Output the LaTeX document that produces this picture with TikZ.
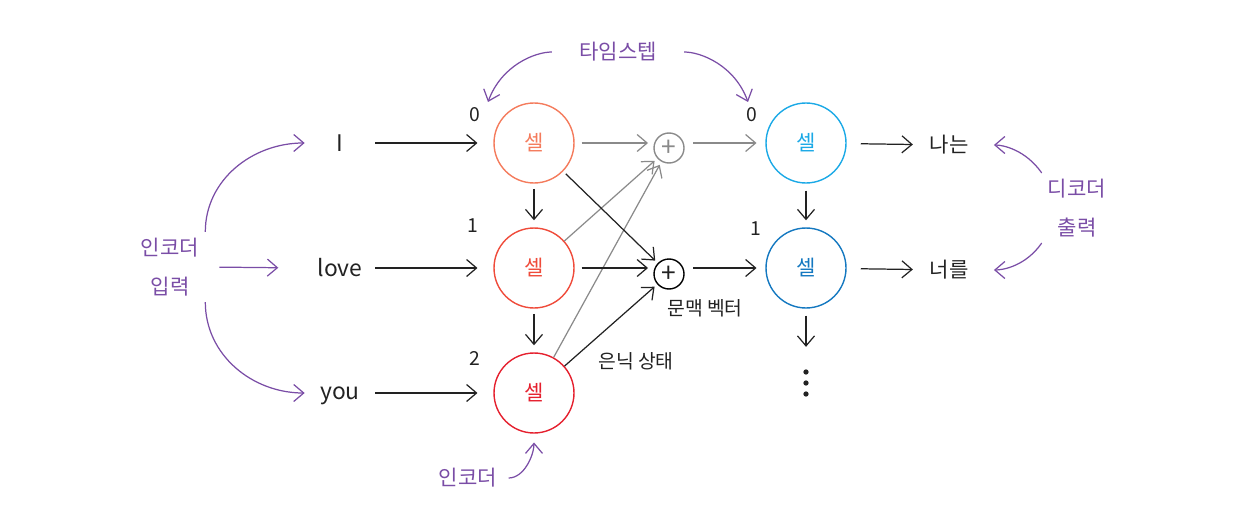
\documentclass[tikz,border=0pt]{standalone}
\usepackage{fontspec}
\setmainfont{Noto Sans CJK KR}
\usepackage{tikz}
\usetikzlibrary{arrows.meta,positioning}

\definecolor{encA}{HTML}{F47B5C}
\definecolor{encB}{HTML}{EF4B3A}
\definecolor{encC}{HTML}{E5202E}
\definecolor{decA}{HTML}{1BA9E6}
\definecolor{decB}{HTML}{1478C0}
\definecolor{note}{HTML}{7A4DA6}
\definecolor{ink}{HTML}{222222}
\definecolor{faint}{HTML}{8A8A8A}

\begin{document}
\begin{tikzpicture}[x=0.02cm, y=0.02cm, font=\fontsize{12}{14}\selectfont, text=ink,
  cell/.style={draw, circle, minimum size=1.6cm, inner sep=0pt, line width=0.8pt},
  word/.style={minimum width=1.4cm, inner sep=2pt, font=\fontsize{13}{14}\selectfont},
  plus/.style={draw, circle, minimum size=0.6cm, inner sep=0pt, line width=0.8pt, font=\fontsize{15}{15}\selectfont},
  idx/.style={font=\fontsize{11}{12}\selectfont},
  memo/.style={font=\fontsize{11}{12}\selectfont},
  purp/.style={text=note, align=center, font=\fontsize{12}{22}\selectfont},
  arr/.style={-{Straight Barb[length=2mm,width=3.4mm]}, line width=0.7pt, draw=ink},
  garr/.style={arr, draw=faint},
  parr/.style={arr, draw=note}
]
\useasboundingbox (0,0) rectangle (1257,-527);

% 入力
\node[word] (in0) at (340,-143) {I};
\node[word] (in1) at (340,-268) {love};
\node[word] (in2) at (340,-396) {you};

% エンコーダ
\node[cell, draw=encA, text=encA] (enc0) at (534,-143) {셀};
\node[cell, draw=encB, text=encB] (enc1) at (534,-268) {셀};
\node[cell, draw=encC, text=encC] (enc2) at (534,-393) {셀};
\node[idx] (ei0) at (475,-115) {0};
\node[idx] (ei1) at (473,-226) {1};
\node[idx] (ei2) at (475,-358) {2};

% 合計
\node[plus, draw=faint, text=faint] (sum0) at (669,-148) {+};
\node[plus] (sum1) at (669,-274) {+};

% デコーダ
\node[cell, draw=decA, text=decA] (dec0) at (806,-143) {셀};
\node[cell, draw=decB, text=decB] (dec1) at (806,-268) {셀};
\node[idx] (di0) at (752,-115) {0};
\node[idx] (di1) at (756,-229) {1};
\node[minimum width=0.2cm, minimum height=0.66cm, inner sep=0pt] (vdots) at (806,-383) {};
\foreach \y in {-372,-383,-394}
  \fill[ink] (806,\y) circle (1.5pt);
\node (out0) at (949,-145) {나는};
\node (out1) at (949,-270) {너를};

% 注記
\node[purp] (encin) at (170,-267) {인코더\\입력};
\node[purp] (decout) at (1077,-208) {디코더\\출력};
\node[purp] (tstep) at (618,-52) {타임스텝};
\node[purp] (encname) at (468,-478) {인코더};
\node[memo] (ctx) at (705,-308) {문맥 벡터};
\node[memo] (hid) at (636,-361) {은닉 상태};
\coordinate (t0) at (488,-102);
\coordinate (t1) at (748,-102);

% 矢印
\draw[arr, shorten >=9pt] (in0) -- (enc0);
\draw[arr, shorten >=9pt] (in1) -- (enc1);
\draw[arr, shorten >=9pt] (in2.east |- enc2) -- (enc2);
\draw[arr, shorten <=3pt, shorten >=4pt] (enc0) -- (enc1);
\draw[arr, shorten <=3pt, shorten >=4pt] (enc1) -- (enc2);
\draw[garr, shorten <=4pt, shorten >=3pt] (enc0.east) -- (enc0.east -| sum0.west);
\draw[garr, shorten >=2pt] (enc1) -- (sum0);
\draw[garr, shorten >=2pt] (enc2) -- (sum0);
\draw[arr, shorten <=2pt, shorten >=2pt] (enc0) -- (sum1);
\draw[arr, shorten <=4pt, shorten >=3pt] (enc1.east) -- (enc1.east -| sum1.west);
\draw[arr, shorten >=2pt] (enc2) -- (sum1);
\draw[garr, shorten <=5pt, shorten >=5pt] (sum0.east |- dec0) -- (dec0.west);
\draw[arr, shorten <=5pt, shorten >=5pt] (sum1.east |- dec1) -- (dec1.west);
\draw[arr, shorten <=4pt, shorten >=4pt] (dec0) -- (dec1);
\draw[arr, shorten <=4pt, shorten >=11pt] (dec1) -- (vdots);
\draw[arr, shorten <=8pt, shorten >=6pt] (dec0) -- (out0);
\draw[arr, shorten <=8pt, shorten >=6pt] (dec1) -- (out1);

% 紫の矢印
\draw[parr] (encin.north east) to[out=90, in=180] (in0.west);
\draw[parr, shorten <=8pt, shorten >=15pt] (encin.east) -- (in1.west);
\draw[parr] (encin.south east) to[out=-90, in=180] (in2.west |- enc2);
\draw[parr, shorten >=11pt] (decout.north west) to[out=125, in=0] (out0.east);
\draw[parr, shorten >=11pt] (decout.south west) to[out=-125, in=0] (out1.east);
\draw[parr, shorten <=12pt] (tstep.west) to[out=180, in=70] (t0);
\draw[parr, shorten <=12pt] (tstep.east) to[out=0, in=110] (t1);
\draw[parr, shorten <=3pt, shorten >=5pt] (encname.east) to[out=0, in=-90] (enc2.south);
\end{tikzpicture}
\end{document}
